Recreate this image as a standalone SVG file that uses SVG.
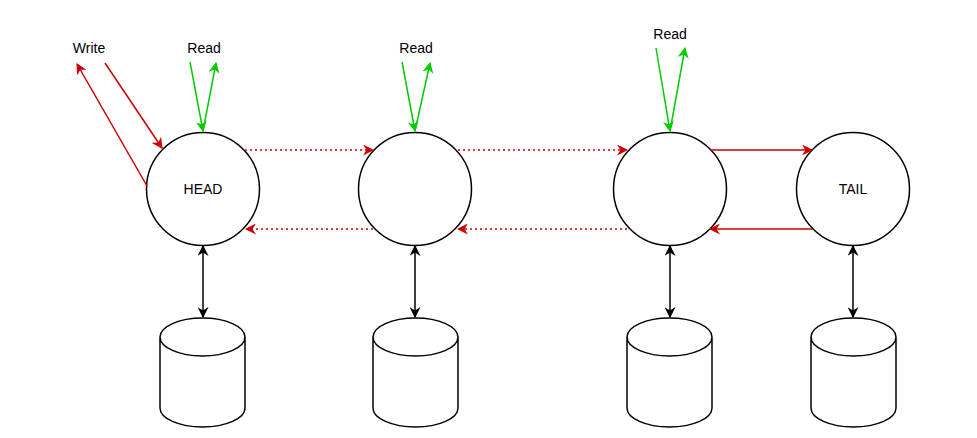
<svg xmlns="http://www.w3.org/2000/svg" width="977" height="438" viewBox="0 0 977 438">
<style>
.n{fill:#fff;stroke:#000;stroke-width:1.5}
.t{font-family:"Liberation Sans",Arial,sans-serif;font-size:14px;text-anchor:middle;fill:#000}
.r{stroke:#cc0000;stroke-width:1.5;fill:none}
.d{stroke-dasharray:2 3}
.g{stroke:#00cc00;stroke-width:1.5;fill:none}
.k{stroke:#000;stroke-width:1.5;fill:none}
</style>
<defs>
<marker id="ar" viewBox="0 0 10 10" refX="9" refY="5" markerWidth="11" markerHeight="11" orient="auto-start-reverse" markerUnits="userSpaceOnUse"><path d="M0,0 L10,5 L0,10 L3,5 Z" fill="#cc0000"/></marker>
<marker id="ag" viewBox="0 0 10 10" refX="9" refY="5" markerWidth="11" markerHeight="11" orient="auto-start-reverse" markerUnits="userSpaceOnUse"><path d="M0,0 L10,5 L0,10 L3,5 Z" fill="#00cc00"/></marker>
<marker id="ak" viewBox="0 0 10 10" refX="9" refY="5" markerWidth="11" markerHeight="11" orient="auto-start-reverse" markerUnits="userSpaceOnUse"><path d="M0,0 L10,5 L0,10 L3,5 Z" fill="#000"/></marker>
</defs>
<rect width="977" height="438" fill="#fff"/>
<g id="head"><circle class="n" cx="203" cy="189" r="56.5"/><text class="t" x="203" y="194">HEAD</text></g>
<g id="node2"><circle class="n" cx="415" cy="189" r="56.5"/></g>
<g id="node3"><circle class="n" cx="670" cy="189" r="56.5"/></g>
<g id="tail"><circle class="n" cx="853" cy="189" r="56.5"/><text class="t" x="853" y="194">TAIL</text></g>
<g id="db1"><path class="n" d="M160,337 A42.5,19 0 0 1 245,337 L245,408 A42.5,19 0 0 1 160,408 Z M160,337 A42.5,19 0 0 0 245,337"/></g>
<g id="db2"><path class="n" d="M373,337 A42.5,19 0 0 1 458,337 L458,408 A42.5,19 0 0 1 373,408 Z M373,337 A42.5,19 0 0 0 458,337"/></g>
<g id="db3"><path class="n" d="M627,337 A42.5,19 0 0 1 712,337 L712,408 A42.5,19 0 0 1 627,408 Z M627,337 A42.5,19 0 0 0 712,337"/></g>
<g id="db4"><path class="n" d="M811,337 A42.5,19 0 0 1 896,337 L896,408 A42.5,19 0 0 1 811,408 Z M811,337 A42.5,19 0 0 0 896,337"/></g>
<g id="labels">
<text class="t" x="89" y="53">Write</text>
<text class="t" x="204" y="53">Read</text>
<text class="t" x="416" y="53">Read</text>
<text class="t" x="670" y="39">Read</text>
</g>
<g id="connectors">
<line class="r" x1="105" y1="63" x2="162" y2="148" marker-end="url(#ar)"/>
<line class="r" x1="147" y1="186" x2="77" y2="64" marker-end="url(#ar)"/>
<line class="g" x1="190" y1="62" x2="203" y2="131" marker-end="url(#ag)"/>
<line class="g" x1="203" y1="131" x2="216" y2="63" marker-end="url(#ag)"/>
<line class="g" x1="402" y1="62" x2="415" y2="131" marker-end="url(#ag)"/>
<line class="g" x1="415" y1="131" x2="430" y2="63" marker-end="url(#ag)"/>
<line class="g" x1="656" y1="48" x2="670" y2="131" marker-end="url(#ag)"/>
<line class="g" x1="670" y1="131" x2="685" y2="48" marker-end="url(#ag)"/>
<line class="r d" x1="245" y1="150" x2="373" y2="150" marker-end="url(#ar)"/>
<line class="r d" x1="373" y1="229" x2="246" y2="229" marker-end="url(#ar)"/>
<line class="r d" x1="458" y1="150" x2="627" y2="150" marker-end="url(#ar)"/>
<line class="r d" x1="627" y1="229" x2="458" y2="229" marker-end="url(#ar)"/>
<line class="r" x1="710" y1="150" x2="812" y2="150" marker-end="url(#ar)"/>
<line class="r" x1="812" y1="229" x2="710" y2="229" marker-end="url(#ar)"/>
<line class="k" x1="203" y1="246" x2="203" y2="317" marker-start="url(#ak)" marker-end="url(#ak)"/>
<line class="k" x1="415" y1="246" x2="415" y2="317" marker-start="url(#ak)" marker-end="url(#ak)"/>
<line class="k" x1="670" y1="246" x2="670" y2="317" marker-start="url(#ak)" marker-end="url(#ak)"/>
<line class="k" x1="853" y1="246" x2="853" y2="317" marker-start="url(#ak)" marker-end="url(#ak)"/>
</g>
</svg>
